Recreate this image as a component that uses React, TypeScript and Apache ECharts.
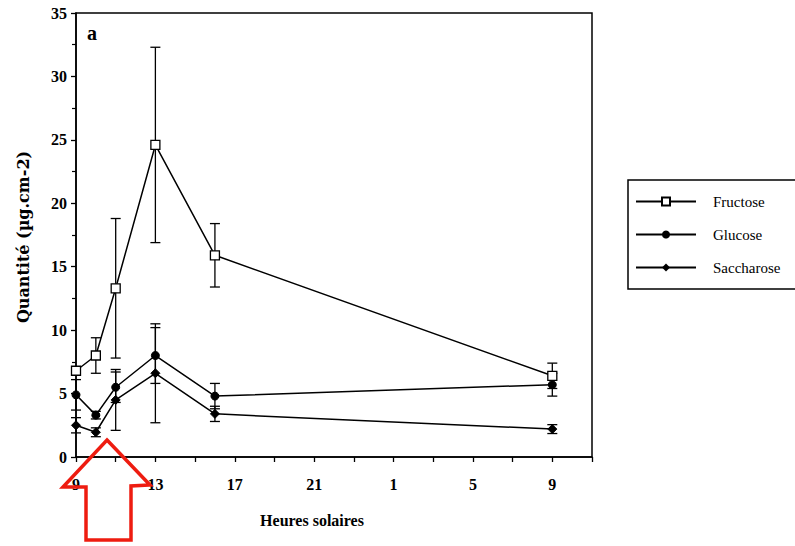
import React, { useEffect, useRef } from "react";
import * as echarts from "echarts";

// Hours elapsed since 9h solar time (9h, 10h, 11h, 13h, 16h, 9h next day)
const startHour = 9;
const elapsedHours = [0, 1, 2, 4, 7, 24];

const seriesNames = ["Fructose", "Glucose", "Saccharose"];

const fructose = [6.8, 8.0, 13.3, 24.6, 15.9, 6.4];
const fructoseErr = [0.3, 1.4, 5.5, 7.7, 2.5, 1.0];

const glucose = [4.9, 3.3, 5.5, 8.0, 4.8, 5.7];
const glucoseErr = [1.2, 0.3, 1.2, 2.2, 1.0, 0.9];

const saccharose = [2.5, 1.95, 4.5, 6.6, 3.4, 2.2];
const saccharoseErr = [0.6, 0.35, 2.4, 3.9, 0.6, 0.35];

const yTicks = [0, 5, 10, 15, 20, 25, 30, 35];

const serif = "Liberation Serif";

function errData(vals: number[], errs: number[]) {
  return vals.map((v, i) => [elapsedHours[i], v - errs[i], v + errs[i]]);
}

function errorSeries(name: string, vals: number[], errs: number[]) {
  return {
    type: "custom",
    name: name + "-err",
    z: 3,
    silent: true,
    data: errData(vals, errs),
    renderItem: (params: any, api: any) => {
      const x = api.value(0);
      const lo = api.coord([x, api.value(1)]);
      const hi = api.coord([x, api.value(2)]);
      const cap = 5;
      const style = { stroke: "#000", lineWidth: 1.3 };
      return {
        type: "group",
        children: [
          { type: "line", shape: { x1: lo[0], y1: lo[1], x2: hi[0], y2: hi[1] }, style },
          { type: "line", shape: { x1: lo[0] - cap, y1: lo[1], x2: lo[0] + cap, y2: lo[1] }, style },
          { type: "line", shape: { x1: hi[0] - cap, y1: hi[1], x2: hi[0] + cap, y2: hi[1] }, style },
        ],
      };
    },
  };
}

function lineData(vals: number[]) {
  return vals.map((v, i) => [elapsedHours[i], v]);
}

export default function App() {
  const ref = useRef<HTMLDivElement>(null);
  useEffect(() => {
    document.body.style.margin = "0";
    if (!ref.current) return;
    const chart = echarts.init(ref.current, null, { renderer: "svg" });
    chart.setOption({
      animation: false,
      backgroundColor: "#fff",
      textStyle: { fontFamily: serif },
      grid: {
        left: 76,
        right: 203,
        top: 13,
        bottom: 89,
        show: true,
        borderColor: "#000",
        borderWidth: 1.5,
        backgroundColor: "transparent",
      },
      legend: {
        data: seriesNames,
        orient: "vertical",
        left: 628,
        top: 180,
        padding: [14, 16, 14, 7],
        itemWidth: 60,
        itemHeight: 10,
        itemGap: 18,
        borderColor: "#000",
        borderWidth: 1.5,
        textStyle: {
          fontFamily: serif,
          fontSize: 15,
          color: "#000",
          padding: [0, 0, 0, 12],
        },
      },
      xAxis: {
        type: "value",
        min: 0,
        max: 26,
        interval: 2,
        axisLine: { show: true, lineStyle: { color: "#000", width: 1.5 } },
        axisTick: { show: true, inside: false, length: 5, lineStyle: { color: "#000", width: 1.3 } },
        splitLine: { show: false },
        axisLabel: {
          margin: 19,
          fontFamily: serif,
          fontWeight: "bold",
          fontSize: 16,
          color: "#000",
          formatter: (v: number) =>
            v % 4 === 0 && v <= 24 ? String((startHour + v) % 24) : "",
        },
      },
      yAxis: {
        type: "value",
        min: yTicks[0],
        max: yTicks[yTicks.length - 1],
        interval: 5,
        axisLine: { show: true, lineStyle: { color: "#000", width: 1.5 } },
        axisTick: { show: true, inside: false, length: 5, lineStyle: { color: "#000", width: 1.3 } },
        minorTick: { show: true, splitNumber: 2, length: 4, lineStyle: { color: "#000", width: 1.2 } },
        splitLine: { show: false },
        axisLabel: {
          margin: 9,
          fontFamily: serif,
          fontWeight: "bold",
          fontSize: 16,
          color: "#000",
        },
      },
      graphic: [
        {
          type: "text",
          left: 87,
          top: 23,
          style: { text: "a", fontFamily: serif, fontWeight: "bold", fontSize: 20, fill: "#000" },
        },
        {
          type: "text",
          x: 312,
          y: 520,
          style: {
            text: "Heures solaires",
            fontFamily: serif,
            fontWeight: "bold",
            fontSize: 16,
            fill: "#000",
            align: "center",
            verticalAlign: "middle",
          },
        },
        {
          type: "text",
          x: 23,
          y: 237,
          rotation: Math.PI / 2,
          style: {
            text: "Quantité (µg.cm-2)",
            fontFamily: "DejaVu Serif",
            fontWeight: "bold",
            fontSize: 16,
            fill: "#000",
            align: "center",
            verticalAlign: "middle",
          },
        },
        {
          type: "polygon",
          z: 100,
          shape: {
            points: [
              [107, 440],
              [150, 485],
              [131, 486],
              [131, 540],
              [86, 540],
              [86, 487],
              [63, 487],
            ],
          },
          style: { fill: "none", stroke: "#ee1c10", lineWidth: 3.5 },
        },
      ],
      series: [
        errorSeries("Fructose", fructose, fructoseErr),
        errorSeries("Glucose", glucose, glucoseErr),
        errorSeries("Saccharose", saccharose, saccharoseErr),
        {
          type: "line",
          name: "Fructose",
          z: 5,
          data: lineData(fructose),
          symbol: "rect",
          symbolSize: 9,
          itemStyle: { color: "#fff", borderColor: "#000", borderWidth: 1.3 },
          lineStyle: { color: "#000", width: 1.5 },
        },
        {
          type: "line",
          name: "Glucose",
          z: 5,
          data: lineData(glucose),
          symbol: "circle",
          symbolSize: 8,
          itemStyle: { color: "#000", borderColor: "#000" },
          lineStyle: { color: "#000", width: 1.5 },
        },
        {
          type: "line",
          name: "Saccharose",
          z: 5,
          data: lineData(saccharose),
          symbol: "diamond",
          symbolSize: 9,
          itemStyle: { color: "#000", borderColor: "#000" },
          lineStyle: { color: "#000", width: 1.5 },
        },
      ],
    });
    return () => chart.dispose();
  }, []);
  return <div ref={ref} style={{ width: 795, height: 546 }} />;
}
